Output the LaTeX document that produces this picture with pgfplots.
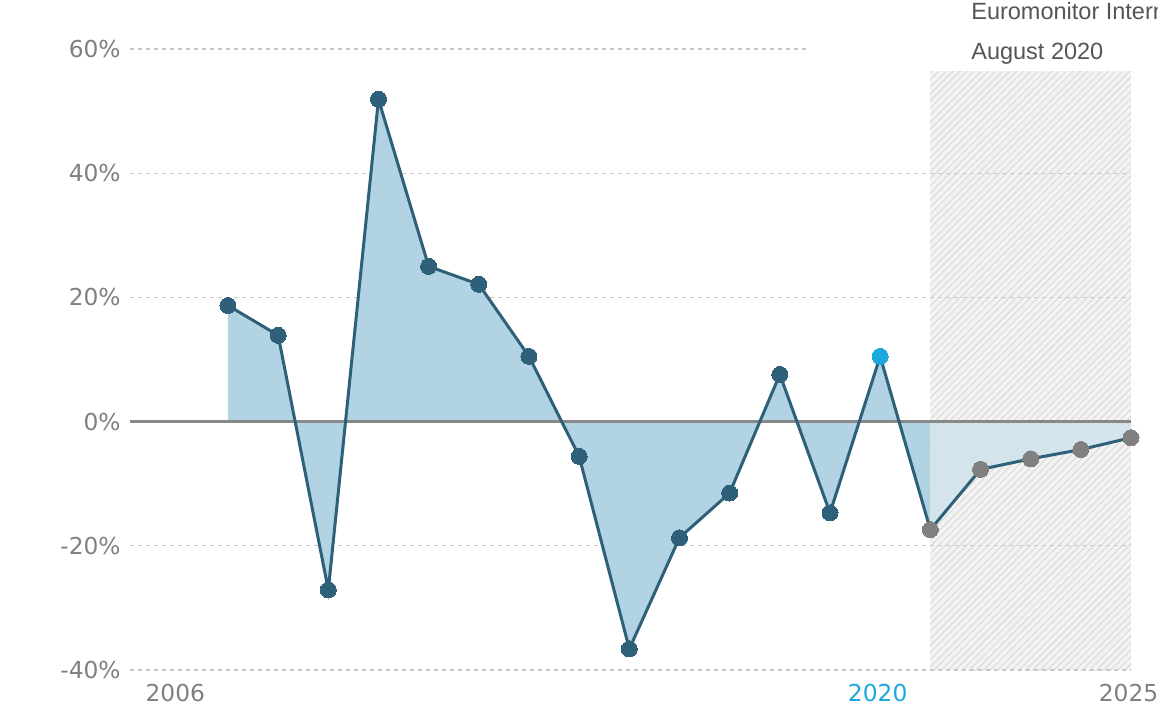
\documentclass[border=0pt]{standalone}
\usepackage{pgfplots}
\pgfplotsset{compat=1.18}
\usepackage{fontspec}
\setmainfont{DejaVu Sans}
\newfontfamily\arial{Liberation Sans}
\usetikzlibrary{patterns.meta}
\definecolor{linec}{HTML}{2F607A}
\definecolor{fillh}{HTML}{B2D3E4}
\definecolor{fillf}{HTML}{D3E4ED}
\definecolor{hatchbg}{HTML}{F3F3F3}
\definecolor{hatchline}{HTML}{DCDCDC}
\definecolor{zeroc}{HTML}{888888}
\definecolor{gridc}{HTML}{C8C8C8}
\definecolor{ticktext}{HTML}{808080}
\definecolor{cyanlab}{HTML}{1BA9DC}
\definecolor{greym}{HTML}{808080}
\definecolor{toptext}{HTML}{555555}
\begin{document}
\begin{tikzpicture}
\useasboundingbox (0,0) rectangle (694.8pt,423.6pt);
\begin{axis}[at={(78pt,21.6pt)}, anchor=south west, scale only axis,
  width=600.6pt, height=372.6pt,
  xmin=2005.047, xmax=2025, ymin=-40, ymax=60,
  axis line style={draw=none}, major tick length=0pt,
  xtick={2006,2020,2025},
  xticklabels={2006,\textcolor{cyanlab}{2020},2025},
  ytick={-40,-20,0,20,40,60},
  yticklabels={-40\%,-20\%,0\%,20\%,40\%,60\%},
  ticklabel style={font=\fontsize{14}{17}\selectfont, text=ticktext, inner sep=0pt},
  yticklabel style={anchor=east, xshift=-5.4pt},
  xticklabel style={anchor=north, yshift=-8.4pt, xshift=-1.5pt},
  clip=false]
% forecast hatched region
\fill[hatchbg] (axis cs:2021,-40) rectangle (axis cs:2025,56.45);
\fill[pattern={Lines[angle=45,distance=3pt,line width=0.7pt]}, pattern color=hatchline] (axis cs:2021,-40) rectangle (axis cs:2025,56.45);
% gridlines
\draw[gridc, dash pattern=on 2.4pt off 2.4pt, line width=0.8pt] (axis cs:2005.047,60) -- (axis cs:2018.6,60);
\draw[gridc, dash pattern=on 2.4pt off 2.4pt, line width=0.8pt] (axis cs:2005.047,40) -- (axis cs:2025,40);
\draw[gridc, dash pattern=on 2.4pt off 2.4pt, line width=0.8pt] (axis cs:2005.047,20) -- (axis cs:2025,20);
\draw[gridc, dash pattern=on 2.4pt off 2.4pt, line width=0.8pt] (axis cs:2005.047,-20) -- (axis cs:2025,-20);
\draw[gridc, dash pattern=on 2.4pt off 2.4pt, line width=0.8pt] (axis cs:2005.047,-40) -- (axis cs:2025,-40);
% areas
\addplot[fill=fillh, draw=none] coordinates {(2007,0) (2007,18.7) (2008,13.9) (2009,-27.1) (2010,51.9) (2011,25.0) (2012,22.1) (2013,10.5) (2014,-5.6) (2015,-36.6) (2016,-18.7) (2017,-11.5) (2018,7.6) (2019,-14.7) (2020,10.5) (2021,-17.4) (2021,0)} -- cycle;
\addplot[fill=fillf, draw=none] coordinates {(2021,0) (2021,-17.4) (2022,-7.7) (2023,-6.0) (2024,-4.5) (2025,-2.6) (2025,0)} -- cycle;
% zero line
\draw[zeroc, line width=1.6pt] (axis cs:2005.047,0) -- (axis cs:2025,0);
% line
\addplot[linec, line width=1.8pt, mark=none] coordinates {(2007,18.7) (2008,13.9) (2009,-27.1) (2010,51.9) (2011,25.0) (2012,22.1) (2013,10.5) (2014,-5.6) (2015,-36.6) (2016,-18.7) (2017,-11.5) (2018,7.6) (2019,-14.7) (2020,10.5) (2021,-17.4) (2022,-7.7) (2023,-6.0) (2024,-4.5) (2025,-2.6)};
% markers
\addplot[only marks, color=linec, mark=*, mark size=4.8pt, mark options={fill=linec, draw=linec, line width=0pt}] coordinates {(2007,18.7) (2008,13.9) (2009,-27.1) (2010,51.9) (2011,25.0) (2012,22.1) (2013,10.5) (2014,-5.6) (2015,-36.6) (2016,-18.7) (2017,-11.5) (2018,7.6) (2019,-14.7)};
\addplot[only marks, color=cyanlab, mark=*, mark size=4.8pt, mark options={fill=cyanlab, draw=cyanlab, line width=0pt}] coordinates {(2020,10.5)};
\addplot[only marks, color=greym, mark=*, mark size=4.8pt, mark options={fill=greym, draw=greym, line width=0pt}] coordinates {(2021,-17.4) (2022,-7.7) (2023,-6.0) (2024,-4.5) (2025,-2.6)};
\end{axis}
\node[anchor=base west, inner sep=0pt, font=\arial\fontsize{14.1}{17}\selectfont, text=toptext] at (582.6pt,411.6pt) {Euromonitor International};
\node[anchor=base west, inner sep=0pt, font=\arial\fontsize{14.1}{17}\selectfont, text=toptext] at (582.6pt,387.6pt) {August 2020};
\end{tikzpicture}
\end{document}
